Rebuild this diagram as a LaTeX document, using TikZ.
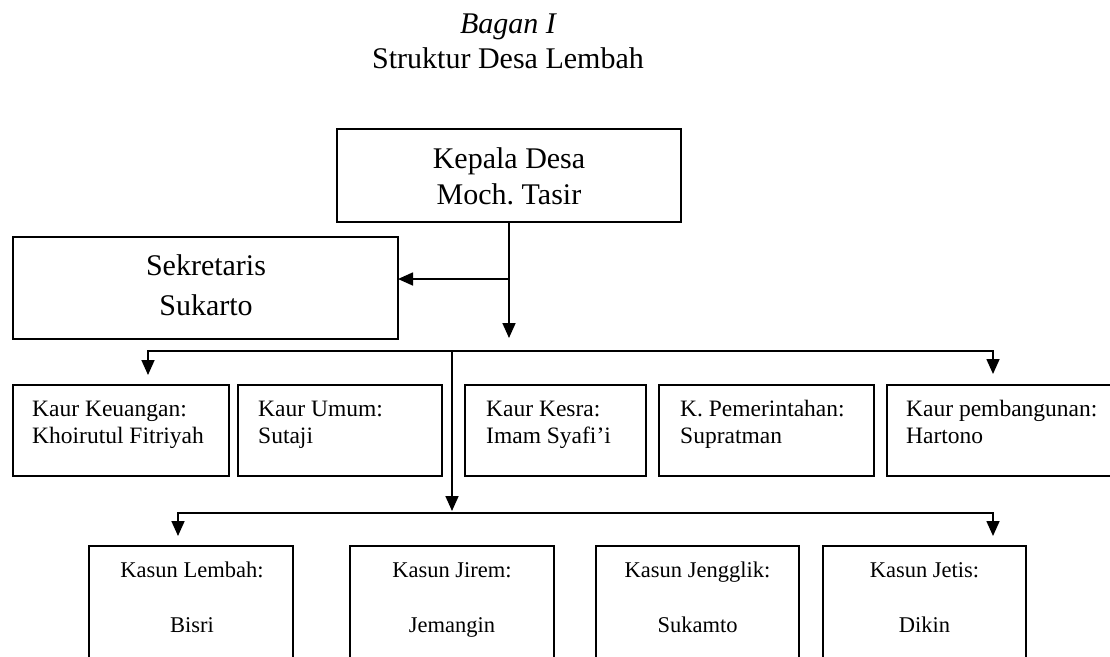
\documentclass[tikz,border=0pt]{standalone}
\usepackage{fontspec}
\setmainfont{Liberation Serif}
\usetikzlibrary{arrows.meta}
\frenchspacing
\newcommand{\mylstack}[1]{\begin{tabular}[t]{@{}l@{}}#1\end{tabular}}
\newcommand{\mycstack}[1]{\begin{tabular}[t]{@{}c@{}}#1\end{tabular}}
\begin{document}
\begin{tikzpicture}[x=1pt,y=-1pt,
  box/.style={draw, line width=1.7pt, rectangle, inner sep=0pt, outer sep=0pt},
  bigtext/.style={inner sep=0pt, anchor=base, font=\fontsize{30}{36}\selectfont},
  sektext/.style={inner sep=0pt, anchor=base, font=\fontsize{30}{40}\selectfont},
  kaurtext/.style={inner sep=0pt, anchor=base west, font=\fontsize{23.5}{27}\selectfont},
  kasuntext/.style={inner sep=0pt, anchor=base, font=\fontsize{22.5}{27.5}\selectfont},
  arr/.style={line width=1.7pt, -{Triangle[length=15pt,width=13pt]}},
  arrtwo/.style={line width=1.7pt, {Triangle[length=15pt,width=13pt]}-{Triangle[length=15pt,width=13pt]}}
]
\useasboundingbox (0,0) rectangle (1110,656);
\clip (0,0) rectangle (1110,656);

% titles
\node[bigtext, font=\fontsize{30}{36}\selectfont\itshape] (t1) at (508,33) {Bagan I};
\node[bigtext] (t2) at (508,68) {Struktur Desa Lembah};

% Kepala Desa
\node[box, minimum width=344pt, minimum height=93pt] (K) at (509,175.5) {};
\node[bigtext] (Kt) at (509,168) {\mycstack{Kepala Desa\\Moch. Tasir}};

% Sekretaris
\node[box, minimum width=385pt, minimum height=102pt] (S) at (205.5,288) {};
\node[sektext] (St) at (206,275) {\mycstack{Sekretaris\\Sukarto}};

% Kaur row
\node[box, minimum width=216pt, minimum height=91pt] (r1) at (121,430.5) {};
\node[box, minimum width=204pt, minimum height=91pt] (r2) at (340,430.5) {};
\node[box, minimum width=181pt, minimum height=91pt] (r3) at (555.5,430.5) {};
\node[box, minimum width=215pt, minimum height=91pt] (r4) at (766.5,430.5) {};
\node[box, minimum width=233pt, minimum height=91pt] (r5) at (1003.5,430.5) {};
\node[kaurtext] (r1t) at (32,416) {\mylstack{Kaur Keuangan:\\Khoirutul Fitriyah}};
\node[kaurtext] (r2t) at (258,416) {\mylstack{Kaur Umum:\\Sutaji}};
\node[kaurtext] (r3t) at (486,416) {\mylstack{Kaur Kesra:\\Imam Syafi’i}};
\node[kaurtext] (r4t) at (680,416) {\mylstack{K. Pemerintahan:\\Supratman}};
\node[kaurtext] (r5t) at (906,416) {\mylstack{Kaur pembangunan:\\Hartono}};

% Kasun row
\node[box, minimum width=204pt, minimum height=134pt] (b1) at (191,613) {};
\node[box, minimum width=204pt, minimum height=134pt] (b2) at (452,613) {};
\node[box, minimum width=203pt, minimum height=134pt] (b3) at (697.5,613) {};
\node[box, minimum width=203pt, minimum height=134pt] (b4) at (924.5,613) {};
\node[kasuntext] (b1t) at (192,577) {\mycstack{Kasun Lembah:\\ \\Bisri}};
\node[kasuntext] (b2t) at (452,577) {\mycstack{Kasun Jirem:\\ \\Jemangin}};
\node[kasuntext] (b3t) at (697.5,577) {\mycstack{Kasun Jengglik:\\ \\Sukamto}};
\node[kasuntext] (b4t) at (924.5,577) {\mycstack{Kasun Jetis:\\ \\Dikin}};

% connector points
\coordinate (d1) at (509,338);
\coordinate (j0) at (509,279);
\coordinate (a1) at (148,375);
\coordinate (hL) at (148,351);
\coordinate (hV) at (452,351);
\coordinate (hR) at (993,351);
\coordinate (a2) at (993,374);
\coordinate (d2) at (452,511);
\coordinate (c1) at (178,536);
\coordinate (lL) at (178,513);
\coordinate (lR) at (993,513);
\coordinate (c2) at (993,536);

% connectors
\draw[arr] (K.south) -- (d1);
\draw[arr] (j0) -- (j0 -| S.east);
\draw[arrtwo] (a1) -- (hL) -- (hR) -- (a2);
\draw[arr] (hV) -- (d2);
\draw[arrtwo] (c1) -- (lL) -- (lR) -- (c2);
\end{tikzpicture}
\end{document}
